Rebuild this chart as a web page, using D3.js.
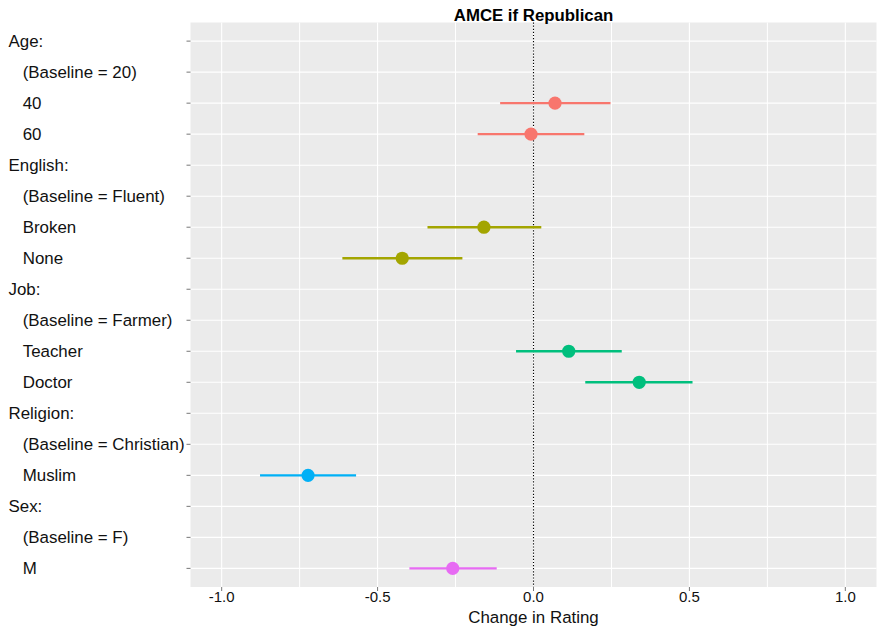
<!DOCTYPE html>
<html>
<head>
<meta charset="utf-8">
<script src="https://cdn.jsdelivr.net/npm/d3@7/dist/d3.min.js"></script>
<style>
  html, body { margin: 0; padding: 0; background: #fff; }
  svg { display: block; font-family: "Liberation Sans", Arial, Helvetica, sans-serif; }
</style>
</head>
<body>
<svg id="chart" width="881" height="634"></svg>
<script>
// Row labels, top to bottom (headers are attribute names ending in ":")
const rowLabels = [
  "Age:", "(Baseline = 20)", "40", "60",
  "English:", "(Baseline = Fluent)", "Broken", "None",
  "Job:", "(Baseline = Farmer)", "Teacher", "Doctor",
  "Religion:", "(Baseline = Christian)", "Muslim",
  "Sex:", "(Baseline = F)", "M"
];

// Estimated effects (AMCE) with confidence bounds
const levels    = ["40", "60", "Broken", "None", "Teacher", "Doctor", "Muslim", "M"];
const groups    = ["Age", "Age", "English", "English", "Job", "Job", "Religion", "Sex"];
const estimates = [0.069, -0.008, -0.159, -0.421, 0.113, 0.339, -0.723, -0.259];
const lowers    = [-0.107, -0.179, -0.340, -0.613, -0.056, 0.166, -0.877, -0.398];
const uppers    = [0.247, 0.163, 0.025, -0.228, 0.283, 0.510, -0.569, -0.118];

const groupNames  = ["Age", "English", "Job", "Religion", "Sex"];
const groupColors = ["#F8766D", "#A3A500", "#00BF7D", "#00B0F6", "#E76BF3"];

const xTicks      = [-1.0, -0.5, 0.0, 0.5, 1.0];
const xMinorTicks = [-0.75, -0.25, 0.25, 0.75];

const svg = d3.select("#chart");
const panel = { left: 190.5, right: 876.5, top: 22.5, bottom: 587 };

const x = d3.scaleLinear().domain([-1.1, 1.1]).range([panel.left, panel.right]);
const y = d3.scalePoint().domain(rowLabels).range([panel.top, panel.bottom]).padding(0.6);
const color = d3.scaleOrdinal().domain(groupNames).range(groupColors);

// Panel background
svg.append("rect")
  .attr("x", panel.left).attr("y", panel.top)
  .attr("width", panel.right - panel.left).attr("height", panel.bottom - panel.top)
  .attr("fill", "#EBEBEB");

// Grid lines
const grid = svg.append("g").attr("stroke", "#fff");
grid.selectAll(".minor").data(xMinorTicks).join("line")
  .attr("x1", d => x(d)).attr("x2", d => x(d))
  .attr("y1", panel.top).attr("y2", panel.bottom)
  .attr("stroke-width", 1);
grid.selectAll(".major").data(xTicks).join("line")
  .attr("x1", d => x(d)).attr("x2", d => x(d))
  .attr("y1", panel.top).attr("y2", panel.bottom)
  .attr("stroke-width", 1.1);
grid.selectAll(".hrow").data(rowLabels).join("line")
  .attr("x1", panel.left).attr("x2", panel.right)
  .attr("y1", d => y(d)).attr("y2", d => y(d))
  .attr("stroke-width", 1.1);

// Zero reference line
svg.append("line")
  .attr("x1", x(0)).attr("x2", x(0))
  .attr("y1", panel.top).attr("y2", panel.bottom)
  .attr("stroke", "#000").attr("stroke-width", 1.1)
  .attr("stroke-dasharray", "1.2,1.9");

// Confidence intervals
const effects = levels.map((l, i) => ({
  level: l, group: groups[i], est: estimates[i], lo: lowers[i], hi: uppers[i]
}));

svg.append("g").selectAll("line").data(effects).join("line")
  .attr("x1", d => x(d.lo)).attr("x2", d => x(d.hi))
  .attr("y1", d => y(d.level)).attr("y2", d => y(d.level))
  .attr("stroke", d => color(d.group)).attr("stroke-width", 2.4);

// Point estimates
svg.append("g").selectAll("circle").data(effects).join("circle")
  .attr("cx", d => x(d.est)).attr("cy", d => y(d.level))
  .attr("r", 6.6)
  .attr("fill", d => color(d.group));

// Y axis: ticks and left-justified labels
const yAxis = svg.append("g");
yAxis.selectAll("line").data(rowLabels).join("line")
  .attr("x1", panel.left - 4).attr("x2", panel.left)
  .attr("y1", d => y(d)).attr("y2", d => y(d))
  .attr("stroke", "#777").attr("stroke-width", 1);
yAxis.selectAll("text").data(rowLabels).join("text")
  .attr("x", d => d.endsWith(":") ? 8.5 : 22.7)
  .attr("y", d => y(d) + 6)
  .attr("font-size", "16.9px")
  .attr("fill", "#111")
  .text(d => d);

// X axis
const xAxis = svg.append("g");
xAxis.selectAll("line").data(xTicks).join("line")
  .attr("x1", d => x(d)).attr("x2", d => x(d))
  .attr("y1", panel.bottom).attr("y2", panel.bottom + 4)
  .attr("stroke", "#777").attr("stroke-width", 1);
xAxis.selectAll("text").data(xTicks).join("text")
  .attr("x", d => x(d)).attr("y", 602)
  .attr("text-anchor", "middle")
  .attr("font-size", "15px")
  .attr("fill", "#111")
  .text(d => d3.format(".1f")(d).replace("−", "-"));

// Axis title
svg.append("text")
  .attr("x", (panel.left + panel.right) / 2).attr("y", 622.5)
  .attr("text-anchor", "middle")
  .attr("font-size", "16.9px")
  .attr("fill", "#111")
  .text("Change in Rating");

// Plot title
svg.append("text")
  .attr("x", (panel.left + panel.right) / 2).attr("y", 20.5)
  .attr("text-anchor", "middle")
  .attr("font-size", "16.8px")
  .attr("font-weight", "bold")
  .attr("fill", "#000")
  .text("AMCE if Republican");
</script>
</body>
</html>
